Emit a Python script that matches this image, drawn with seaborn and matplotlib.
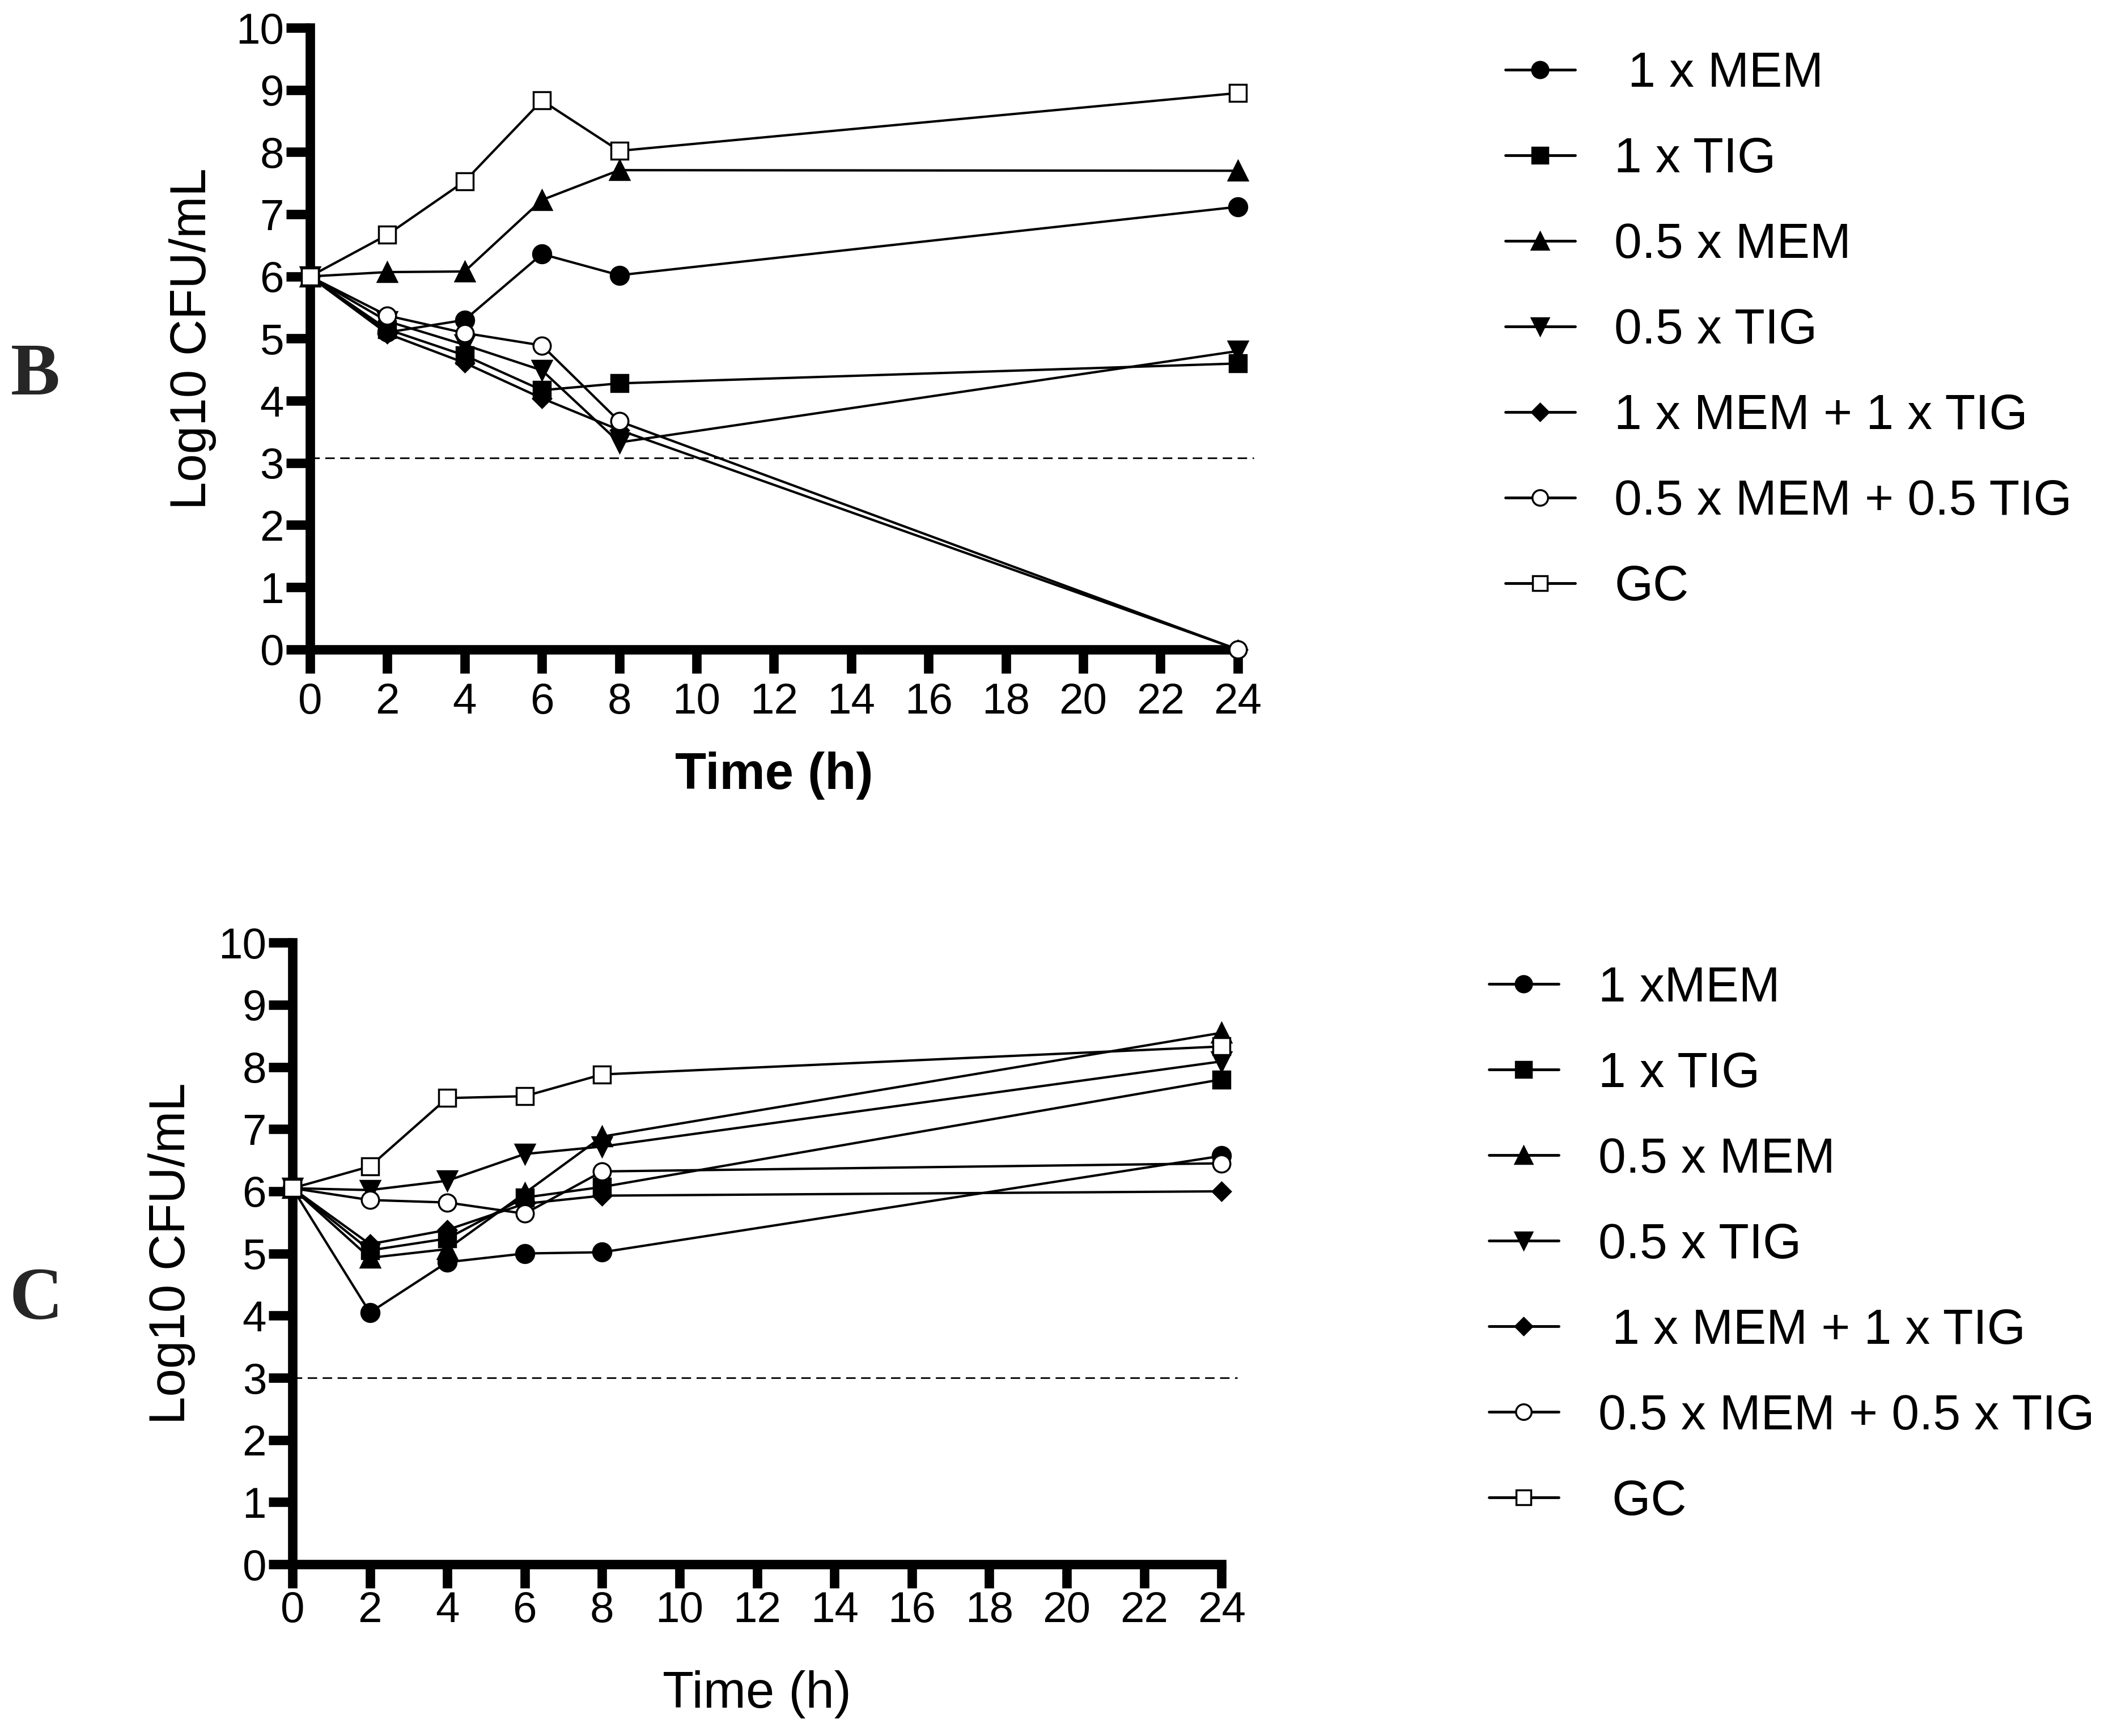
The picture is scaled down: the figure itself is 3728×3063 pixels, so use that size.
import matplotlib
matplotlib.use("Agg")
import matplotlib.pyplot as plt
from matplotlib.lines import Line2D
import seaborn as sns
import pandas as pd

# sampling times (h)
time_h = [0, 2, 4, 6, 8, 24]

# panel B: log10 CFU/mL
b_mem1 = [6.00, 5.10, 5.30, 6.36, 6.02, 7.12]
b_tig1 = [6.00, 5.15, 4.73, 4.17, 4.28, 4.60]
b_mem05 = [6.00, 6.07, 6.08, 7.23, 7.71, 7.70]
b_tig05 = [6.00, 5.28, 4.90, 4.49, 3.33, 4.80]
b_mem1_tig1 = [6.00, 5.08, 4.61, 4.04, 3.53, 0.00]
b_mem05_tig05 = [6.00, 5.37, 5.09, 4.89, 3.67, 0.00]
b_gc = [6.00, 6.67, 7.53, 8.83, 8.02, 8.95]
b_limit = 3.08

# panel C: log10 CFU/mL
c_mem1 = [6.05, 4.05, 4.86, 5.00, 5.02, 6.57]
c_tig1 = [6.05, 5.05, 5.24, 5.90, 6.07, 7.80]
c_mem05 = [6.05, 4.93, 5.07, 5.97, 6.88, 8.55]
c_tig05 = [6.05, 6.02, 6.17, 6.60, 6.72, 8.09]
c_mem1_tig1 = [6.05, 5.15, 5.38, 5.80, 5.93, 6.00]
c_mem05_tig05 = [6.05, 5.86, 5.82, 5.64, 6.32, 6.45]
c_gc = [6.05, 6.40, 7.50, 7.53, 7.88, 8.33]
c_limit = 3.00

b_labels = [" 1 x MEM", "1 x TIG", "0.5 x MEM", "0.5 x TIG",
            "1 x MEM + 1 x TIG", "0.5 x MEM + 0.5 TIG", "GC"]
c_labels = ["1 xMEM", "1 x TIG", "0.5 x MEM", "0.5 x TIG",
            " 1 x MEM + 1 x TIG", "0.5 x MEM + 0.5 x TIG", " GC"]

x_ticks = list(range(0, 25, 2))
y_ticks = list(range(0, 11))

# marker, marker size, filled?
styles = [
    ("o", 23, True),
    ("s", 22, True),
    ("^", 24, True),
    ("v", 24, True),
    ("D", 16.5, True),
    ("o", 22, False),
    ("s", 21, False),
]

sns.set_theme(style="white")
plt.rcParams["font.family"] = ["Liberation Sans", "DejaVu Sans"]

SPINE_W = 12
TICK_FS = 55


def draw_panel(ax, series, limit, legend_labels, bold_xlabel, xpad):
    for vals, (mk, ms, filled) in zip(series, styles):
        sns.lineplot(x=time_h, y=vals, ax=ax, color="black", lw=3,
                     marker=mk, markersize=ms,
                     markerfacecolor="black" if filled else "white",
                     markeredgecolor="black", markeredgewidth=2.5,
                     clip_on=False, legend=False, zorder=3)

    # limit of detection
    ax.axhline(limit, xmin=0, xmax=1.017, color="black", lw=2,
               ls=(0, (6, 3.5)), clip_on=False, zorder=2)

    ax.set_xlim(0, 24)
    ax.set_ylim(0, 10)
    ax.set_xticks(x_ticks)
    ax.set_yticks(y_ticks)
    for side in ["top", "right"]:
        ax.spines[side].set_visible(False)
    for side in ["left", "bottom"]:
        ax.spines[side].set_linewidth(SPINE_W)
        ax.spines[side].set_color("black")
        ax.spines[side].set_capstyle("projecting")
    ax.tick_params(axis="both", which="major", length=30, width=SPINE_W,
                   color="black", labelsize=TICK_FS, labelcolor="black",
                   direction="out", left=True, bottom=True)
    ax.tick_params(axis="y", pad=3)
    ax.tick_params(axis="x", pad=xpad)
    ax.set_ylabel("Log10 CFU/mL", fontsize=64, color="black")
    ax.set_xlabel("Time (h)", fontsize=65, color="black",
                  fontweight="bold" if bold_xlabel else "normal")
    ax.set_facecolor("white")

    handles = []
    for (mk, ms, filled), lab in zip(styles, legend_labels):
        handles.append(Line2D([], [], color="black", lw=3.5, marker=mk,
                              markersize=ms * 0.9,
                              markerfacecolor="black" if filled else "white",
                              markeredgecolor="black", markeredgewidth=2.5,
                              label=lab))
    return handles


fig = plt.figure(figsize=(37.28, 30.63), dpi=100)
fig.patch.set_facecolor("white")

ax_b = fig.add_axes([0.1467, 0.6259, 0.4391, 0.3581])
ax_c = fig.add_axes([0.1384, 0.0989, 0.4397, 0.3581])

b_series = [b_mem1, b_tig1, b_mem05, b_tig05, b_mem1_tig1, b_mem05_tig05, b_gc]
c_series = [c_mem1, c_tig1, c_mem05, c_tig05, c_mem1_tig1, c_mem05_tig05, c_gc]

hb = draw_panel(ax_b, b_series, b_limit, b_labels, True, 12)
hc = draw_panel(ax_c, c_series, c_limit, c_labels, False, 4)

ax_b.yaxis.set_label_coords(-0.101, 0.5)
ax_c.yaxis.set_label_coords(-0.104, 0.5)
ax_b.xaxis.set_label_coords(0.5, -0.164)
ax_c.xaxis.set_label_coords(0.5, -0.170)

leg_kw = dict(frameon=False, fontsize=63, handlelength=1.4,
              handletextpad=0.8, labelspacing=0.80, borderpad=0,
              borderaxespad=0, loc="upper left", labelcolor="black")
fig.legend(handles=hb, bbox_to_anchor=(2656 / 3728, 0.9705), **leg_kw)
fig.legend(handles=hc, bbox_to_anchor=(2627 / 3728, 0.4437), **leg_kw)

fig.text(62 / 3728, 1 - 664 / 3063, "B", fontsize=94, fontweight="bold",
         family=["Liberation Serif", "DejaVu Serif"], ha="center", va="center")
fig.text(64 / 3728, 1 - 2296 / 3063, "C", fontsize=94, fontweight="bold",
         family=["Liberation Serif", "DejaVu Serif"], ha="center", va="center")

fig.savefig("out.png", dpi=100, facecolor="white")
